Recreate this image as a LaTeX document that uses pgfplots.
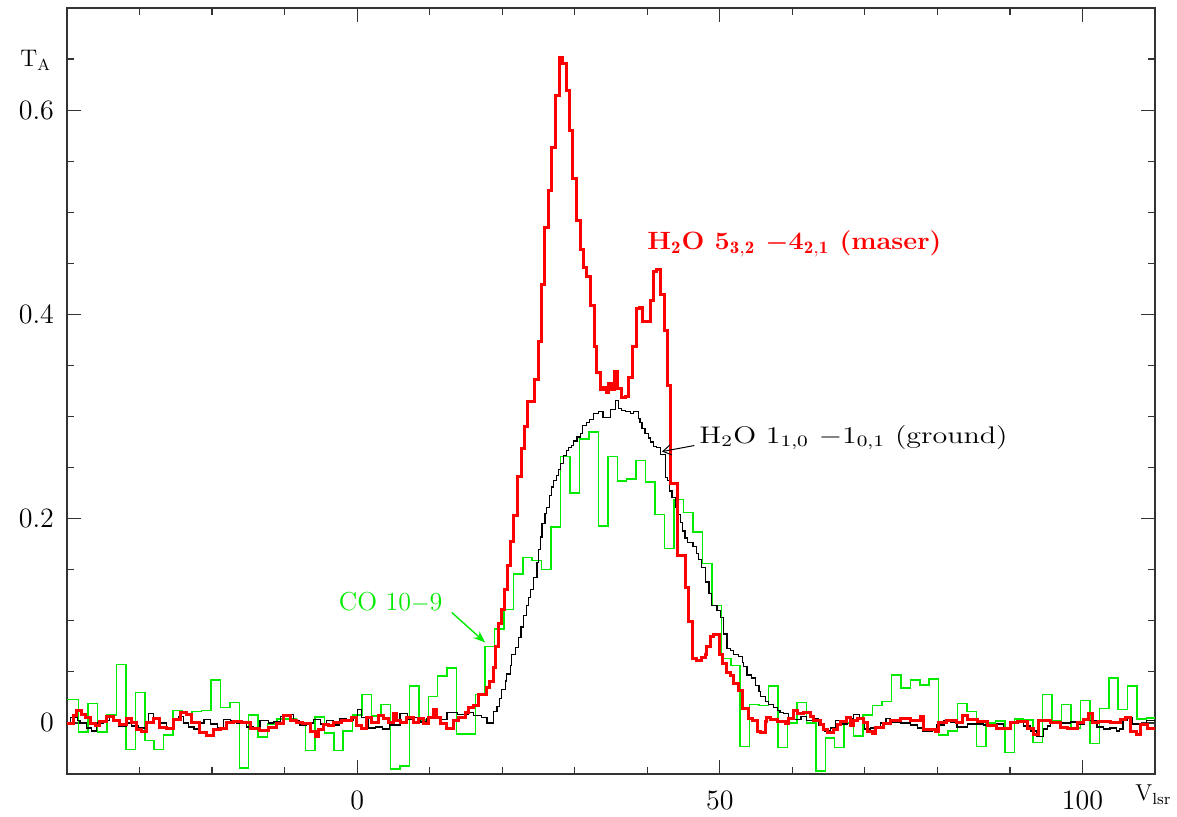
\documentclass[border=0pt]{standalone}
\usepackage{fontspec}
\usepackage{graphicx}
\usepackage{pgfplots}
\pgfplotsset{compat=1.18}
\usetikzlibrary{arrows.meta}
\definecolor{cored}{RGB}{255,0,0}
\definecolor{cogreen}{RGB}{0,235,0}
\begin{document}
\begin{tikzpicture}
\begin{axis}[name=ax,
 scale only axis, width=544pt, height=383pt,
 xmin=-40, xmax=110, ymin=-0.05, ymax=0.7,
 axis line style={line width=0.6pt, black!80},
 tick align=inside,
 xtick={0,50,100}, xticklabels={0,50,100},
 minor xtick={-30,-20,-10,10,20,30,40,60,70,80,90},
 ytick={0,0.2,0.4,0.6}, yticklabels={0,0.2,0.4,0.6},
 minor ytick={-0.05,0.05,0.1,0.15,0.25,0.3,0.35,0.45,0.5,0.55,0.65},
 major tick length=7pt, minor tick length=3.5pt,
 tick style={line width=0.6pt, black!80},
 ticklabel style={font=\fontsize{14}{16}\selectfont},
 xticklabel style={yshift=-5pt},
 yticklabel style={xshift=-3pt},
]
% CO 10-9 (green)
\addplot[const plot, cogreen, line width=0.75pt] coordinates {
(-40,0.023) (-38.40,-0.009) (-37.10,0.019) (-35.79,-0.009) (-34.49,0.008) (-33.19,0.057) (-31.89,-0.026) (-30.58,0.030) (-29.28,-0.017) (-27.98,-0.026) (-26.67,-0.012) (-25.37,0.012) (-24.07,0.009) (-22.76,0.011) (-21.46,0.012) (-20.16,0.042) (-18.86,0.015) (-17.55,0.020) (-16.25,-0.044) (-14.95,0.008) (-13.64,-0.014) (-12.34,-0.001) (-11.04,0.004) (-9.73,0.004) (-8.43,0.000) (-7.13,-0.027) (-5.83,0.006) (-4.52,-0.010) (-3.22,-0.027) (-1.92,-0.008) (-0.61,0.008) (0.69,0.028) (1.99,0.007) (3.30,0.018) (4.60,-0.045) (5.90,-0.042) (7.21,0.036) (8.51,0.003) (9.81,0.026) (11.11,0.046) (12.42,0.054) (13.72,-0.011) (15.02,-0.011) (16.33,0.028) (17.63,0.075) (18.93,0.092) (20.24,0.111) (21.54,0.146) (22.84,0.162) (24.14,0.159) (25.45,0.150) (26.75,0.192) (28.05,0.261) (29.36,0.225) (30.66,0.278) (31.96,0.285) (33.27,0.193) (34.57,0.261) (35.87,0.237) (37.17,0.239) (38.48,0.257) (39.78,0.236) (41.08,0.204) (42.39,0.171) (43.69,0.219) (44.99,0.206) (46.30,0.187) (47.60,0.156) (48.90,0.115) (50.20,0.063) (51.51,0.056) (52.81,-0.023) (54.11,0.018) (55.42,0.017) (56.72,0.036) (58.02,-0.024) (59.33,0.000) (60.63,0.020) (61.93,0.000) (63.23,-0.047) (64.54,-0.015) (65.84,-0.024) (67.14,0.000) (68.45,-0.013) (69.75,0.008) (71.05,0.017) (72.36,0.021) (73.66,0.047) (74.96,0.034) (76.26,0.042) (77.57,0.037) (78.87,0.043) (80.17,-0.012) (81.48,-0.008) (82.78,0.019) (84.08,0.011) (85.39,-0.023) (86.69,0.000) (87.99,0.002) (89.29,-0.029) (90.60,0.004) (91.90,0.003) (93.20,-0.019) (94.51,0.028) (95.81,0.002) (97.11,0.018) (98.42,-0.005) (99.72,0.022) (101.02,-0.020) (102.32,0.014) (103.63,0.044) (104.93,0.013) (106.23,0.036) (107.54,0.004) (108.84,0.005) (110,0.005)
};
% H2O ground (black)
\addplot[const plot, black, line width=0.6pt] coordinates {
(-40.0,-0.001) (-39.5,0.005) (-38.5,0.002) (-38.2,0.000) (-37.3,-0.005) (-36.6,-0.008) (-35.9,0.000) (-35.0,0.002) (-34.1,0.006) (-33.6,0.002) (-32.9,-0.003) (-31.8,0.000) (-31.1,-0.003) (-30.2,-0.005) (-29.2,0.000) (-28.8,0.009) (-28.1,0.004) (-27.2,0.000) (-26.3,-0.005) (-25.3,0.002) (-24.6,0.006) (-23.9,0.000) (-23.2,-0.004) (-22.5,-0.006) (-21.8,0.000) (-21.1,0.003) (-20.2,-0.001) (-19.3,-0.005) (-18.4,0.003) (-17.5,0.002) (-16.6,0.000) (-15.2,-0.004) (-14.3,-0.005) (-13.4,0.002) (-12.2,0.000) (-11.5,0.001) (-10.6,0.006) (-9.7,0.008) (-8.8,0.002) (-7.9,-0.002) (-7.0,0.000) (-6.0,0.003) (-5.1,-0.001) (-4.2,0.002) (-3.3,-0.002) (-2.4,0.004) (-1.5,0.002) (-0.5,0.006) (0.0,0.013) (0.6,0.005) (1.5,-0.005) (2.5,-0.004) (3.5,-0.006) (4.5,-0.002) (5.9,0.009) (6.9,0.003) (7.8,0.005) (8.7,0.001) (9.6,0.004) (10.5,0.006) (11.6,0.003) (12.4,0.010) (13.8,0.008) (15.4,0.010) (16.0,0.007) (17.2,0.005) (17.9,0.000)
(18.8,0.011) (19.27,0.016) (19.6,0.024) (19.95,0.033) (20.4,0.041) (20.6,0.048) (21.1,0.056) (21.3,0.067) (21.8,0.074) (22.25,0.084) (22.6,0.094) (22.9,0.105) (23.3,0.115) (23.6,0.123) (23.86,0.131) (24.3,0.142) (24.8,0.157) (25.0,0.170) (25.24,0.182) (25.5,0.195) (25.9,0.205) (26.15,0.211) (26.5,0.223) (26.8,0.231) (27.1,0.237) (27.5,0.242) (27.8,0.248) (28.0,0.254) (28.5,0.262) (28.9,0.267) (29.1,0.270) (29.6,0.272) (29.8,0.276) (30.3,0.280) (30.76,0.283) (31.1,0.291) (31.6,0.294) (32.0,0.297) (32.6,0.303) (33.3,0.305) (33.9,0.299) (34.9,0.307) (35.6,0.316) (36.05,0.308) (36.5,0.306) (36.97,0.305) (37.66,0.303) (38.1,0.305) (38.8,0.298) (39.0,0.294) (39.27,0.288) (39.7,0.283) (40.2,0.279) (40.4,0.275) (40.9,0.271) (41.3,0.270) (41.8,0.263) (42.5,0.240) (42.8,0.237) (43.1,0.227) (43.4,0.221) (43.86,0.211) (44.1,0.204) (44.55,0.196) (44.9,0.188) (45.2,0.181) (45.5,0.177) (46.3,0.173) (46.76,0.166) (47.1,0.160) (47.5,0.152) (48.0,0.138) (48.5,0.127) (48.9,0.115) (49.6,0.110) (50.1,0.103) (50.5,0.087) (51.0,0.073) (51.45,0.071) (51.9,0.067) (52.6,0.065) (53.1,0.059) (53.3,0.055) (53.75,0.047) (54.4,0.044) (54.9,0.037) (55.4,0.031) (55.6,0.026) (56.3,0.021) (56.75,0.018) (57.4,0.015) (57.9,0.012) (58.3,0.010) (58.8,0.009)
(59.5,0.005) (60.3,0.003) (61.2,0.006) (62.0,0.002) (62.9,0.004) (63.6,-0.002) (64.4,-0.008) (65.3,-0.005) (66.0,0.002) (66.8,-0.001) (67.6,0.004) (68.4,0.008) (69.3,0.003) (70.0,-0.006) (70.8,-0.005) (72.2,0.000) (72.9,0.004) (73.5,0.001) (74.9,0.000) (76.3,-0.002) (77.3,-0.005) (77.9,-0.008) (79.3,-0.006) (79.9,-0.002) (80.9,0.002) (81.8,0.001) (82.7,-0.004) (84.1,-0.001) (85.5,-0.001) (86.4,-0.002) (87.3,-0.003) (88.2,-0.001) (89.1,-0.005) (90.1,0.001) (91.0,0.002) (91.9,-0.003) (92.8,-0.008) (93.7,-0.013) (94.6,-0.006) (95.2,-0.003) (95.6,0.001) (97.0,0.000) (98.4,0.001) (99.3,-0.001) (100.2,0.002) (101.1,0.002) (102.0,-0.004) (102.9,-0.006) (103.8,-0.005) (104.7,-0.008) (105.1,-0.006) (105.6,0.002) (106.2,0.005) (106.9,-0.001) (107.9,-0.001) (108.8,0.002) (110,0.002)
};
% H2O maser (red)
\addplot[const plot, cored, line width=1.5pt] coordinates {
(-40.0,-0.001) (-39.1,0.007) (-38.7,0.012) (-38.0,0.008) (-37.5,0.005) (-36.8,-0.001) (-36.1,-0.003) (-35.5,0.001) (-34.5,0.006) (-33.6,0.002) (-32.7,-0.002) (-31.8,0.004) (-31.1,0.000) (-30.4,-0.006) (-29.7,-0.008) (-29.0,0.000) (-28.1,0.004) (-27.2,-0.004) (-26.3,-0.005) (-25.3,0.003) (-24.4,0.010) (-23.5,0.008) (-22.8,0.000) (-21.7,-0.009) (-20.7,-0.012) (-19.8,-0.006) (-18.9,-0.005) (-18.0,0.000) (-17.1,0.001) (-15.9,0.000) (-14.7,-0.005) (-13.4,-0.007) (-12.2,-0.004) (-11.1,-0.001) (-10.2,0.007) (-9.2,0.002) (-8.3,0.000) (-7.5,-0.001) (-6.48,-0.008) (-5.79,-0.013) (-5.33,-0.006) (-4.64,-0.002) (-3.95,-0.003) (-3.26,0.000) (-2.11,0.002) (-0.74,0.005) (-0.05,-0.003) (0.64,-0.005) (1.33,0.005) (2.02,0.000) (2.94,0.007) (3.63,0.004) (4.32,0.000) (5.0,0.009) (5.47,0.002) (5.93,0.000) (6.85,0.005) (7.77,0.000) (8.46,0.004) (9.15,-0.001) (9.84,0.005) (10.5,0.013) (11.0,0.005) (11.45,-0.001) (12.37,-0.005) (13.29,0.002) (13.98,0.005) (14.9,0.010) (15.36,0.015) (16.05,0.017) (16.74,0.028)
(17.9,0.035) (18.3,0.041) (18.75,0.054) (19.1,0.075) (19.55,0.097) (19.95,0.111) (20.35,0.131) (20.75,0.154) (21.15,0.178) (21.6,0.203) (22.1,0.241) (22.6,0.269) (23.08,0.290) (23.5,0.315) (24.46,0.336) (25.0,0.373) (25.47,0.429) (25.84,0.485) (26.4,0.521) (26.85,0.563) (27.36,0.614) (27.86,0.652) (28.37,0.646) (28.83,0.619) (29.29,0.580) (29.75,0.533) (30.3,0.492) (30.76,0.464) (31.22,0.446) (31.68,0.437) (32.14,0.409) (32.69,0.369) (33.06,0.343) (33.5,0.326) (33.98,0.328) (34.34,0.324) (34.67,0.332) (35.13,0.326) (35.5,0.344) (35.95,0.327) (36.5,0.319) (36.97,0.320) (37.43,0.338) (37.98,0.369) (38.48,0.406) (38.94,0.407) (39.4,0.393) (39.96,0.393) (40.41,0.414) (40.87,0.442) (41.33,0.444) (41.89,0.419) (42.34,0.384) (42.85,0.330) (43.26,0.234) (44.15,0.164) (45.3,0.133) (45.7,0.099) (46.25,0.063) (46.76,0.061) (47.54,0.064) (48.0,0.067) (48.23,0.075) (48.69,0.085) (49.15,0.087) (49.97,0.067) (50.44,0.058) (50.99,0.049) (51.45,0.046) (51.9,0.039) (52.6,0.032) (53.06,0.014) (53.97,0.004) (54.44,0.002) (55.13,-0.008) (55.59,-0.009) (56.28,0.001) (56.5,0.005) (56.97,0.003) (57.89,0.001)
(59.03,-0.001) (59.5,0.004) (60.18,0.012) (60.65,0.009) (61.56,0.010) (62.48,0.006) (62.94,0.002) (63.86,-0.002) (64.3,-0.006) (64.8,-0.009) (65.7,-0.006) (66.2,-0.002) (66.6,0.001) (67.5,0.005) (68.0,-0.003) (68.46,0.002) (68.92,0.004) (69.84,0.000) (70.3,-0.008) (70.99,-0.010) (71.45,-0.004) (72.6,-0.001) (73.52,0.002) (74.9,0.004) (76.28,0.002) (77.66,0.006) (78.12,-0.006) (79.7,-0.008) (80.2,0.000) (81.3,0.002) (82.7,0.000) (83.4,0.007) (84.1,0.003) (85.47,0.001) (86.85,-0.003) (88.2,-0.005) (90.07,0.000) (91.0,0.001) (92.37,-0.005) (93.3,-0.011) (93.98,0.002) (95.59,0.000) (96.97,-0.004) (97.9,-0.005) (99.26,0.000) (100.2,0.003) (100.87,0.009) (101.33,0.000) (102.25,0.001) (103.86,0.000) (105.24,0.003) (105.93,0.005) (106.6,-0.008) (107.5,-0.011) (108.0,-0.002) (108.9,-0.005) (110,-0.005)
};
\node[anchor=base west, inner sep=0, text=cored, font=\fontsize{12.5}{14}\selectfont\bfseries] at (axis cs:39.96,0.4634) {\scalebox{1.08}[1]{H$_{\mathbf{2}}$O 5$_{\mathbf{3,2}}$ {\boldmath$-$}4$_{\mathbf{2,1}}$ (maser)}};
\node[anchor=base west, inner sep=0, font=\fontsize{12}{14}\selectfont] at (axis cs:47.13,0.2738) {\scalebox{1.25}[1]{H$_2$O 1$_{1,0}$ $-$1$_{0,1}$ (ground)}};
\node[anchor=base west, inner sep=0, text=cogreen, font=\fontsize{13}{15}\selectfont] at (axis cs:-2.57,0.1105) {CO 10$-$9};
\draw[-{Straight Barb[length=4pt,width=5pt]}, line width=0.5pt] (axis cs:46.48,0.2716) -- (axis cs:42.03,0.2657);
\draw[cogreen, -{Stealth[length=6pt,width=4.5pt]}, line width=0.7pt] (axis cs:13.06,0.1081) -- (axis cs:17.66,0.0787);
\end{axis}
\node[anchor=base west, inner sep=0, font=\fontsize{12}{14}\selectfont] at ([xshift=-23.5pt,yshift=353.5pt]ax.south west) {T$_\mathrm{A}$};
\node[anchor=base west, inner sep=0, font=\fontsize{11.5}{14}\selectfont] at ([xshift=-10pt,yshift=-13.5pt]ax.south east) {V$_\mathrm{lsr}$};
\path ([shift={(-33.5pt,-20.5pt)}]ax.south west) rectangle ([shift={(11pt,4pt)}]ax.north east);
\end{tikzpicture}
\end{document}
